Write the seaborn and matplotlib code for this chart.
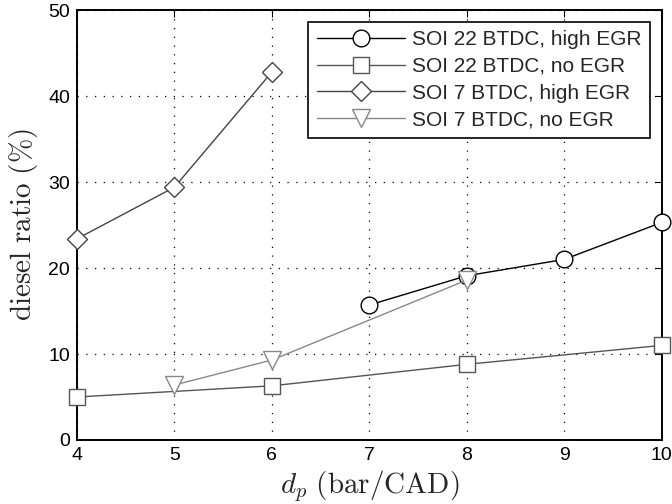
import numpy as np
import pandas as pd
import seaborn as sns
import matplotlib
matplotlib.use('Agg')
import matplotlib.pyplot as plt

# data
x_22_high = [7, 8, 9, 10]
y_22_high = [15.7, 19.1, 21.0, 25.3]
x_22_no = [4, 6, 8, 10]
y_22_no = [5.0, 6.3, 8.8, 11.0]
x_7_high = [4, 5, 6]
y_7_high = [23.4, 29.4, 42.8]
x_7_no = [5, 6, 8]
y_7_no = [6.4, 9.3, 18.6]

labels = ['SOI 22 BTDC, high EGR', 'SOI 22 BTDC, no EGR',
          'SOI 7 BTDC, high EGR', 'SOI 7 BTDC, no EGR']

sns.set_style('white')
plt.rcParams['font.family'] = ['Liberation Sans', 'DejaVu Sans']
plt.rcParams['mathtext.fontset'] = 'cm'
plt.rcParams['xtick.direction'] = 'in'
plt.rcParams['ytick.direction'] = 'in'

fig = plt.figure(figsize=(6.72, 5.04), dpi=100)
ax = fig.add_axes([0.1146, 0.127, 0.870, 0.853])

series = [
    (x_22_high, y_22_high, 'o', '#000000', 12),
    (x_22_no, y_22_no, 's', '#555555', 11),
    (x_7_high, y_7_high, 'D', '#444444', 10),
    (x_7_no, y_7_no, 'v', '#888888', 13),
]
for (xs, ys, m, c, ms), lab in zip(series, labels):
    df = pd.DataFrame({'x': xs, 'y': ys})
    sns.lineplot(data=df, x='x', y='y', ax=ax, color=c, marker=m,
                 markersize=ms, markerfacecolor='white', markeredgecolor=c,
                 markeredgewidth=1.0, linewidth=1.0, label=lab, clip_on=False,
                 zorder=3)

ax.set_xlim(4, 10)
ax.set_ylim(0, 50)
ax.set_xticks(range(4, 11))
ax.set_yticks(range(0, 51, 10))
ax.grid(True, linestyle=(0, (1, 6)), color='black', linewidth=0.9)
ax.tick_params(labelsize=14, top=True, right=True, length=5, width=0.8,
               colors='black', pad=5)
for s in ax.spines.values():
    s.set_color('black')
    s.set_linewidth(1.4)

ax.set_xlabel(r'$d_p\ \mathrm{(bar/CAD)}$', fontsize=21, labelpad=3)
ax.set_ylabel(r'$\mathrm{diesel\ ratio\ (\%)}$', fontsize=21, labelpad=6)

leg = ax.legend(loc='upper right', fontsize=15, frameon=True, fancybox=False,
                edgecolor='black', framealpha=1, borderaxespad=0.55,
                handlelength=4.2, labelspacing=0.37, borderpad=0.42,
                handletextpad=0.35)
leg.get_frame().set_linewidth(1.2)

fig.savefig('out.png', dpi=100)
